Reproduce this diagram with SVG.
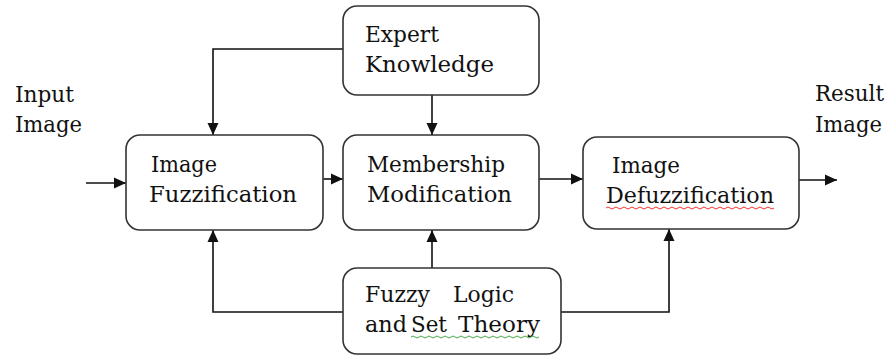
<svg xmlns="http://www.w3.org/2000/svg" width="893" height="358" viewBox="0 0 893 358">
<defs>
<style>
.box{fill:#fff;stroke:#333;stroke-width:1.6}
.t{font-size:23px;fill:#111}
.c{fill:none;stroke:#111;stroke-width:1.6}
.red{fill:none;stroke:#e33;stroke-width:1}
.grn{fill:none;stroke:#4a4;stroke-width:1}
</style>
<marker id="ah" viewBox="0 0 12 12" refX="12" refY="6" markerWidth="12" markerHeight="12" markerUnits="userSpaceOnUse" orient="auto">
<path d="M0,0.5 L12,6 L0,11.5 Z" fill="#111"/>
</marker>
</defs>
<rect width="893" height="358" fill="#fff"/>
<g id="connectors">
<path class="c" d="M343,49 H213 V135" marker-end="url(#ah)"/>
<path class="c" d="M432,95 V135" marker-end="url(#ah)"/>
<path class="c" d="M86,183 H126" marker-end="url(#ah)"/>
<path class="c" d="M323,179 H343" marker-end="url(#ah)"/>
<path class="c" d="M539,179 H583" marker-end="url(#ah)"/>
<path class="c" d="M799,180 H837" marker-end="url(#ah)"/>
<path class="c" d="M343,312 H213 V230" marker-end="url(#ah)"/>
<path class="c" d="M432,268 V230" marker-end="url(#ah)"/>
<path class="c" d="M561,312 H669 V229" marker-end="url(#ah)"/>
</g>
<g font-family="DejaVu Serif, Liberation Serif, serif">
<g id="input-label">
<text class="t" x="15" y="102" textLength="59" lengthAdjust="spacingAndGlyphs">Input</text>
<text class="t" x="15" y="132" textLength="67" lengthAdjust="spacingAndGlyphs">Image</text>
</g>
<g id="result-label">
<text class="t" x="815" y="101" textLength="69" lengthAdjust="spacingAndGlyphs">Result</text>
<text class="t" x="815" y="132" textLength="67" lengthAdjust="spacingAndGlyphs">Image</text>
</g>
<g id="expert-knowledge">
<rect class="box" x="343" y="6" width="196" height="89" rx="14"/>
<text class="t" x="365" y="42" textLength="74" lengthAdjust="spacingAndGlyphs">Expert</text>
<text class="t" x="365" y="72" textLength="129" lengthAdjust="spacingAndGlyphs">Knowledge</text>
</g>
<g id="image-fuzzification">
<rect class="box" x="126" y="135" width="197" height="95" rx="14"/>
<text class="t" x="151" y="172" textLength="66" lengthAdjust="spacingAndGlyphs">Image</text>
<text class="t" x="149" y="202" textLength="148" lengthAdjust="spacingAndGlyphs">Fuzzification</text>
</g>
<g id="membership-modification">
<rect class="box" x="343" y="135" width="196" height="95" rx="14"/>
<text class="t" x="367" y="172" textLength="138" lengthAdjust="spacingAndGlyphs">Membership</text>
<text class="t" x="367" y="202" textLength="145" lengthAdjust="spacingAndGlyphs">Modification</text>
</g>
<g id="image-defuzzification">
<rect class="box" x="583" y="137" width="216" height="92" rx="14"/>
<text class="t" x="612" y="173" textLength="68" lengthAdjust="spacingAndGlyphs">Image</text>
<text class="t" x="606" y="203" textLength="168" lengthAdjust="spacingAndGlyphs">Defuzzification</text>
<path class="red" d="M606,208 q2,-2 4,0 t4,0 t4,0 t4,0 t4,0 t4,0 t4,0 t4,0 t4,0 t4,0 t4,0 t4,0 t4,0 t4,0 t4,0 t4,0 t4,0 t4,0 t4,0 t4,0 t4,0 t4,0 t4,0 t4,0 t4,0 t4,0 t4,0 t4,0 t4,0 t4,0 t4,0 t4,0 t4,0 t4,0 t4,0 t4,0 t4,0 t4,0 t4,0 t4,0 t4,0 t4,0"/>
</g>
<g id="fuzzy-logic">
<rect class="box" x="343" y="268" width="218" height="86" rx="14"/>
<text class="t" x="365" y="302" textLength="65" lengthAdjust="spacingAndGlyphs">Fuzzy</text>
<text class="t" x="453" y="302" textLength="61" lengthAdjust="spacingAndGlyphs">Logic</text>
<text class="t" x="365" y="332" textLength="42" lengthAdjust="spacingAndGlyphs">and</text>
<text class="t" x="411" y="332" textLength="36" lengthAdjust="spacingAndGlyphs">Set</text>
<text class="t" x="458" y="332" textLength="82" lengthAdjust="spacingAndGlyphs">Theory</text>
<path class="grn" d="M411,337 q2,-2 4,0 t4,0 t4,0 t4,0 t4,0 t4,0 t4,0 t4,0 t4,0 t4,0 t4,0 t4,0 t4,0 t4,0 t4,0 t4,0 t4,0 t4,0 t4,0 t4,0 t4,0 t4,0 t4,0 t4,0 t4,0 t4,0 t4,0 t4,0 t4,0 t4,0 t4,0 t4,0"/>
</g>
</g>
</svg>
